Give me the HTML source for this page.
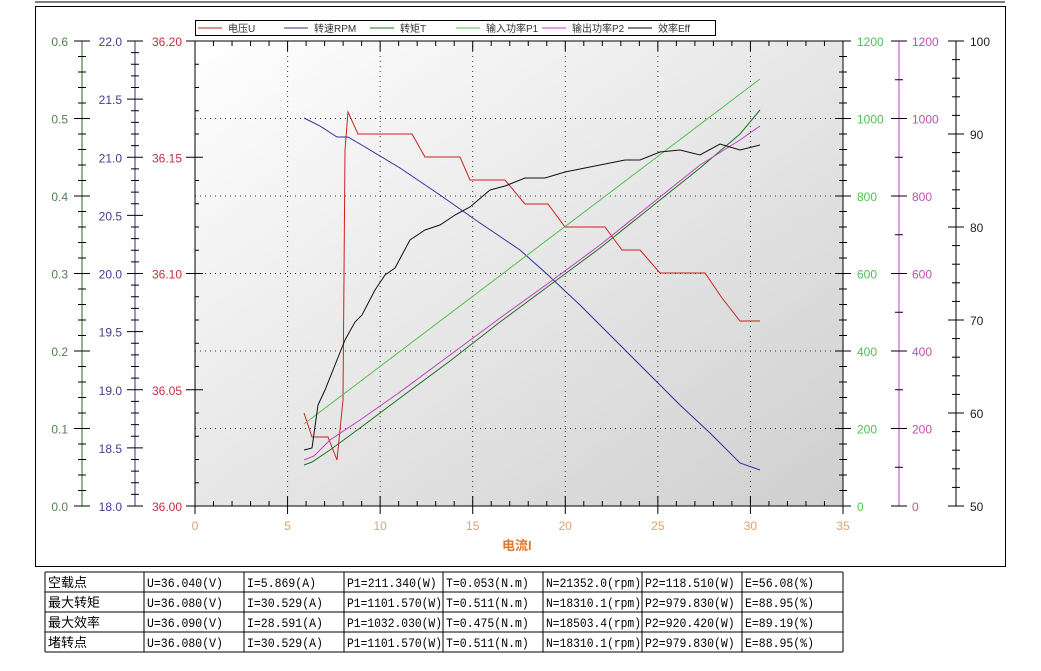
<!DOCTYPE html>
<html><head><meta charset="utf-8"><style>
body{margin:0;background:#fff;width:1041px;height:666px;overflow:hidden}
svg text{font-family:"Liberation Sans","Noto Sans CJK SC",sans-serif}
.t text{font-family:"Liberation Mono","Noto Sans CJK SC",monospace;font-size:13px}
</style></head><body>
<svg id="s" width="1041" height="666" xmlns="http://www.w3.org/2000/svg">
<defs><linearGradient id="g" x1="0" y1="0" x2="1" y2="1"><stop offset="0" stop-color="#ffffff"/><stop offset="1" stop-color="#cfcfcf"/></linearGradient></defs>
<line x1="35" y1="2" x2="1005" y2="2" stroke="#000"/>
<rect x="35.5" y="6.5" width="970" height="560" fill="#fff" stroke="#000"/>
<rect x="195" y="41" width="648" height="465" fill="url(#g)"/>
<g id="grid" stroke="#333" stroke-dasharray="1,4" stroke-width="1"></g>
<g id="ax" stroke="#000" fill="none"></g>
<g id="lines" fill="none" stroke-width="1"></g>
<g id="lab" font-size="12"></g>
<rect x="195.5" y="20.5" width="520" height="15" fill="#fff" stroke="#000"/>
<g font-size="10" fill="#333">
<line x1="198" y1="28" x2="222" y2="28" stroke="#c02020"/><text x="228" y="32">电压U</text>
<line x1="284" y1="28" x2="308" y2="28" stroke="#303090"/><text x="314" y="32">转速RPM</text>
<line x1="370" y1="28" x2="394" y2="28" stroke="#207020"/><text x="400" y="32">转矩T</text>
<line x1="456" y1="28" x2="480" y2="28" stroke="#50c050"/><text x="486" y="32">输入功率P1</text>
<line x1="542" y1="28" x2="566" y2="28" stroke="#c040c0"/><text x="572" y="32">输出功率P2</text>
<line x1="628" y1="28" x2="652" y2="28" stroke="#000"/><text x="658" y="32">效率Eff</text>
</g>
<text x="502" y="550" font-size="13" font-weight="bold" fill="#e07830">电流I</text>
<g class="t" id="tb"></g>
</svg>
<script>
const NS="http://www.w3.org/2000/svg";
function el(p,t,a,txt){const e=document.createElementNS(NS,t);for(const k in a)e.setAttribute(k,a[k]);if(txt!==undefined)e.textContent=txt;document.getElementById(p).appendChild(e);return e;}
const X=i=>195+i*18.514, T=506, H=465;
for(let i=5;i<=30;i+=5)el('grid','line',{x1:X(i),y1:41,x2:X(i),y2:506});
for(let k=1;k<=5;k++){const y=506-77.5*k;el('grid','line',{x1:195,y1:y,x2:843,y2:y});}
el('ax','line',{x1:195,y1:41,x2:195,y2:506});
el('ax','line',{x1:195,y1:506,x2:843,y2:506});
el('ax','line',{x1:195,y1:41,x2:843,y2:41});
el('ax','line',{x1:843,y1:41,x2:843,y2:506});
for(let i=0;i<=35;i++){const x=X(i);const m=i%5==0;el('ax','line',{x1:x,y1:m?496:501,x2:x,y2:m?514:506});
 if(m)el('lab','text',{x:x,y:530,'text-anchor':'middle',fill:'#e0a070'},String(i));}
for(let i=0;i<=35;i++){const x=X(i);el('ax','line',{x1:x,y1:41,x2:x,y2:i%5==0?51:46});}
for(let k=0;k<=20;k++){const y=506-k*H/20;const m=k%5==0;el('ax','line',{x1:m?186:195,y1:y,x2:m?203:199,y2:y});}
for(let k=0;k<=4;k++){const y=506-k*H/4;el('lab','text',{x:182,y:y+5,'text-anchor':'end',fill:'#c03040'},(36+k*0.05).toFixed(2));}
el('ax','line',{x1:82,y1:41,x2:82,y2:506,stroke:'#206020'});
for(let k=0;k<=30;k++){const y=506-k*H/30;const m=k%5==0;el('ax','line',{x1:m?74:78,y1:y,x2:m?90:86,y2:y});}
for(let k=0;k<=6;k++){const y=506-k*H/6;el('lab','text',{x:68,y:y+5,'text-anchor':'end',fill:'#508050'},(k*0.1).toFixed(1));}
el('ax','line',{x1:135,y1:41,x2:135,y2:506,stroke:'#303090'});
for(let k=0;k<=40;k++){const y=506-k*H/40;const m=k%5==0;el('ax','line',{x1:m?127:131,y1:y,x2:m?143:139,y2:y});}
for(let k=0;k<=8;k++){const y=506-k*H/8;el('lab','text',{x:122,y:y+5,'text-anchor':'end',fill:'#404090'},(18+k*0.5).toFixed(1));}
for(let k=0;k<=30;k++){const y=506-k*H/30;const m=k%5==0;el('ax','line',{x1:m?835:839,y1:y,x2:m?851:847,y2:y});}
for(let k=0;k<=6;k++){const y=506-k*H/6;el('lab','text',{x:857,y:y+5,fill:'#50c050'},String(k*200));}
el('ax','line',{x1:899,y1:41,x2:899,y2:506,stroke:'#c040c0'});
for(let k=0;k<=6;k++){const y=506-k*H/6;el('ax','line',{x1:891,y1:y,x2:907,y2:y});if(k<6)el('ax','line',{x1:895,y1:y-H/12,x2:903,y2:y-H/12});
 el('lab','text',{x:912,y:y+5,fill:'#c050b0'},String(k*200));}
el('ax','line',{x1:956,y1:41,x2:956,y2:506});
for(let k=0;k<=25;k++){const y=506-k*H/25;const m=k%5==0;el('ax','line',{x1:m?948:952,y1:y,x2:m?964:960,y2:y});}
for(let k=0;k<=5;k++){const y=506-k*H/5;el('lab','text',{x:970,y:y+5,fill:'#222'},String(50+k*10));}
function pl(pts,c){el('lines','polyline',{points:pts.map(p=>p.join(',')).join(' '),stroke:c});}
pl([[304,413],[312,437],[328,437],[337,460],[343,400],[345,150],[348,112],[358,134],[412,134],[425,157],[460,157],[470,180],[505,180],[525,204],[548,204],[565,227],[605,227],[622,250],[640,250],[660,273],[705,273],[722,298],[740,321],[760,321]],'#d02020');
pl([[304,118],[320,126],[337,137],[348,137],[360,144],[400,168],[440,195],[480,223],[520,250],[548,275],[580,305],[610,335],[650,375],[680,405],[710,433],[740,463],[760,470]],'#3030a0');
pl([[304,465],[312,462],[330,450],[360,428],[400,398],[450,361],[500,322],[550,285],[600,248],[650,208],[700,168],[740,134],[760,110]],'#207020');
pl([[304,424],[760,79]],'#50c050');
pl([[304,460],[314,456],[330,440],[360,420],[400,392],[450,355],[500,318],[550,282],[600,245],[650,205],[700,165],[740,140],[760,126]],'#c040c0');
pl([[304,450],[312,448],[318,405],[325,390],[335,365],[345,340],[355,322],[362,315],[375,290],[385,275],[395,268],[410,240],[425,230],[440,225],[455,215],[470,207],[490,190],[505,186],[525,178],[545,178],[565,172],[600,165],[625,160],[640,160],[660,152],[680,150],[700,155],[720,144],[740,150],[760,145]],'#111');
const cols=[45,144,244,344,443,543,642,742,843], rows=[572,592,612,632,652];
for(const y of rows)el('tb','line',{x1:45,y1:y,x2:843,y2:y,stroke:'#000'});
for(const x of cols)el('tb','line',{x1:x,y1:572,x2:x,y2:652,stroke:'#000'});
const D=[["空载点","U=36.040(V)","I=5.869(A)","P1=211.340(W)","T=0.053(N.m)","N=21352.0(rpm)","P2=118.510(W)","E=56.08(%)"],
["最大转矩","U=36.080(V)","I=30.529(A)","P1=1101.570(W)","T=0.511(N.m)","N=18310.1(rpm)","P2=979.830(W)","E=88.95(%)"],
["最大效率","U=36.090(V)","I=28.591(A)","P1=1032.030(W)","T=0.475(N.m)","N=18503.4(rpm)","P2=920.420(W)","E=89.19(%)"],
["堵转点","U=36.080(V)","I=30.529(A)","P1=1101.570(W)","T=0.511(N.m)","N=18310.1(rpm)","P2=979.830(W)","E=88.95(%)"]];
D.forEach((r,i)=>r.forEach((c,j)=>{const a={x:cols[j]+3,y:rows[i]+15,fill:'#000'};
 if(j==0){a['font-size']='14';a['font-family']='"Noto Sans CJK SC",sans-serif';}
 else{a.textLength=Math.min(c.length*6.9,95);a.lengthAdjust='spacingAndGlyphs';}
 el('tb','text',a,c);}));
</script>
</body></html>
